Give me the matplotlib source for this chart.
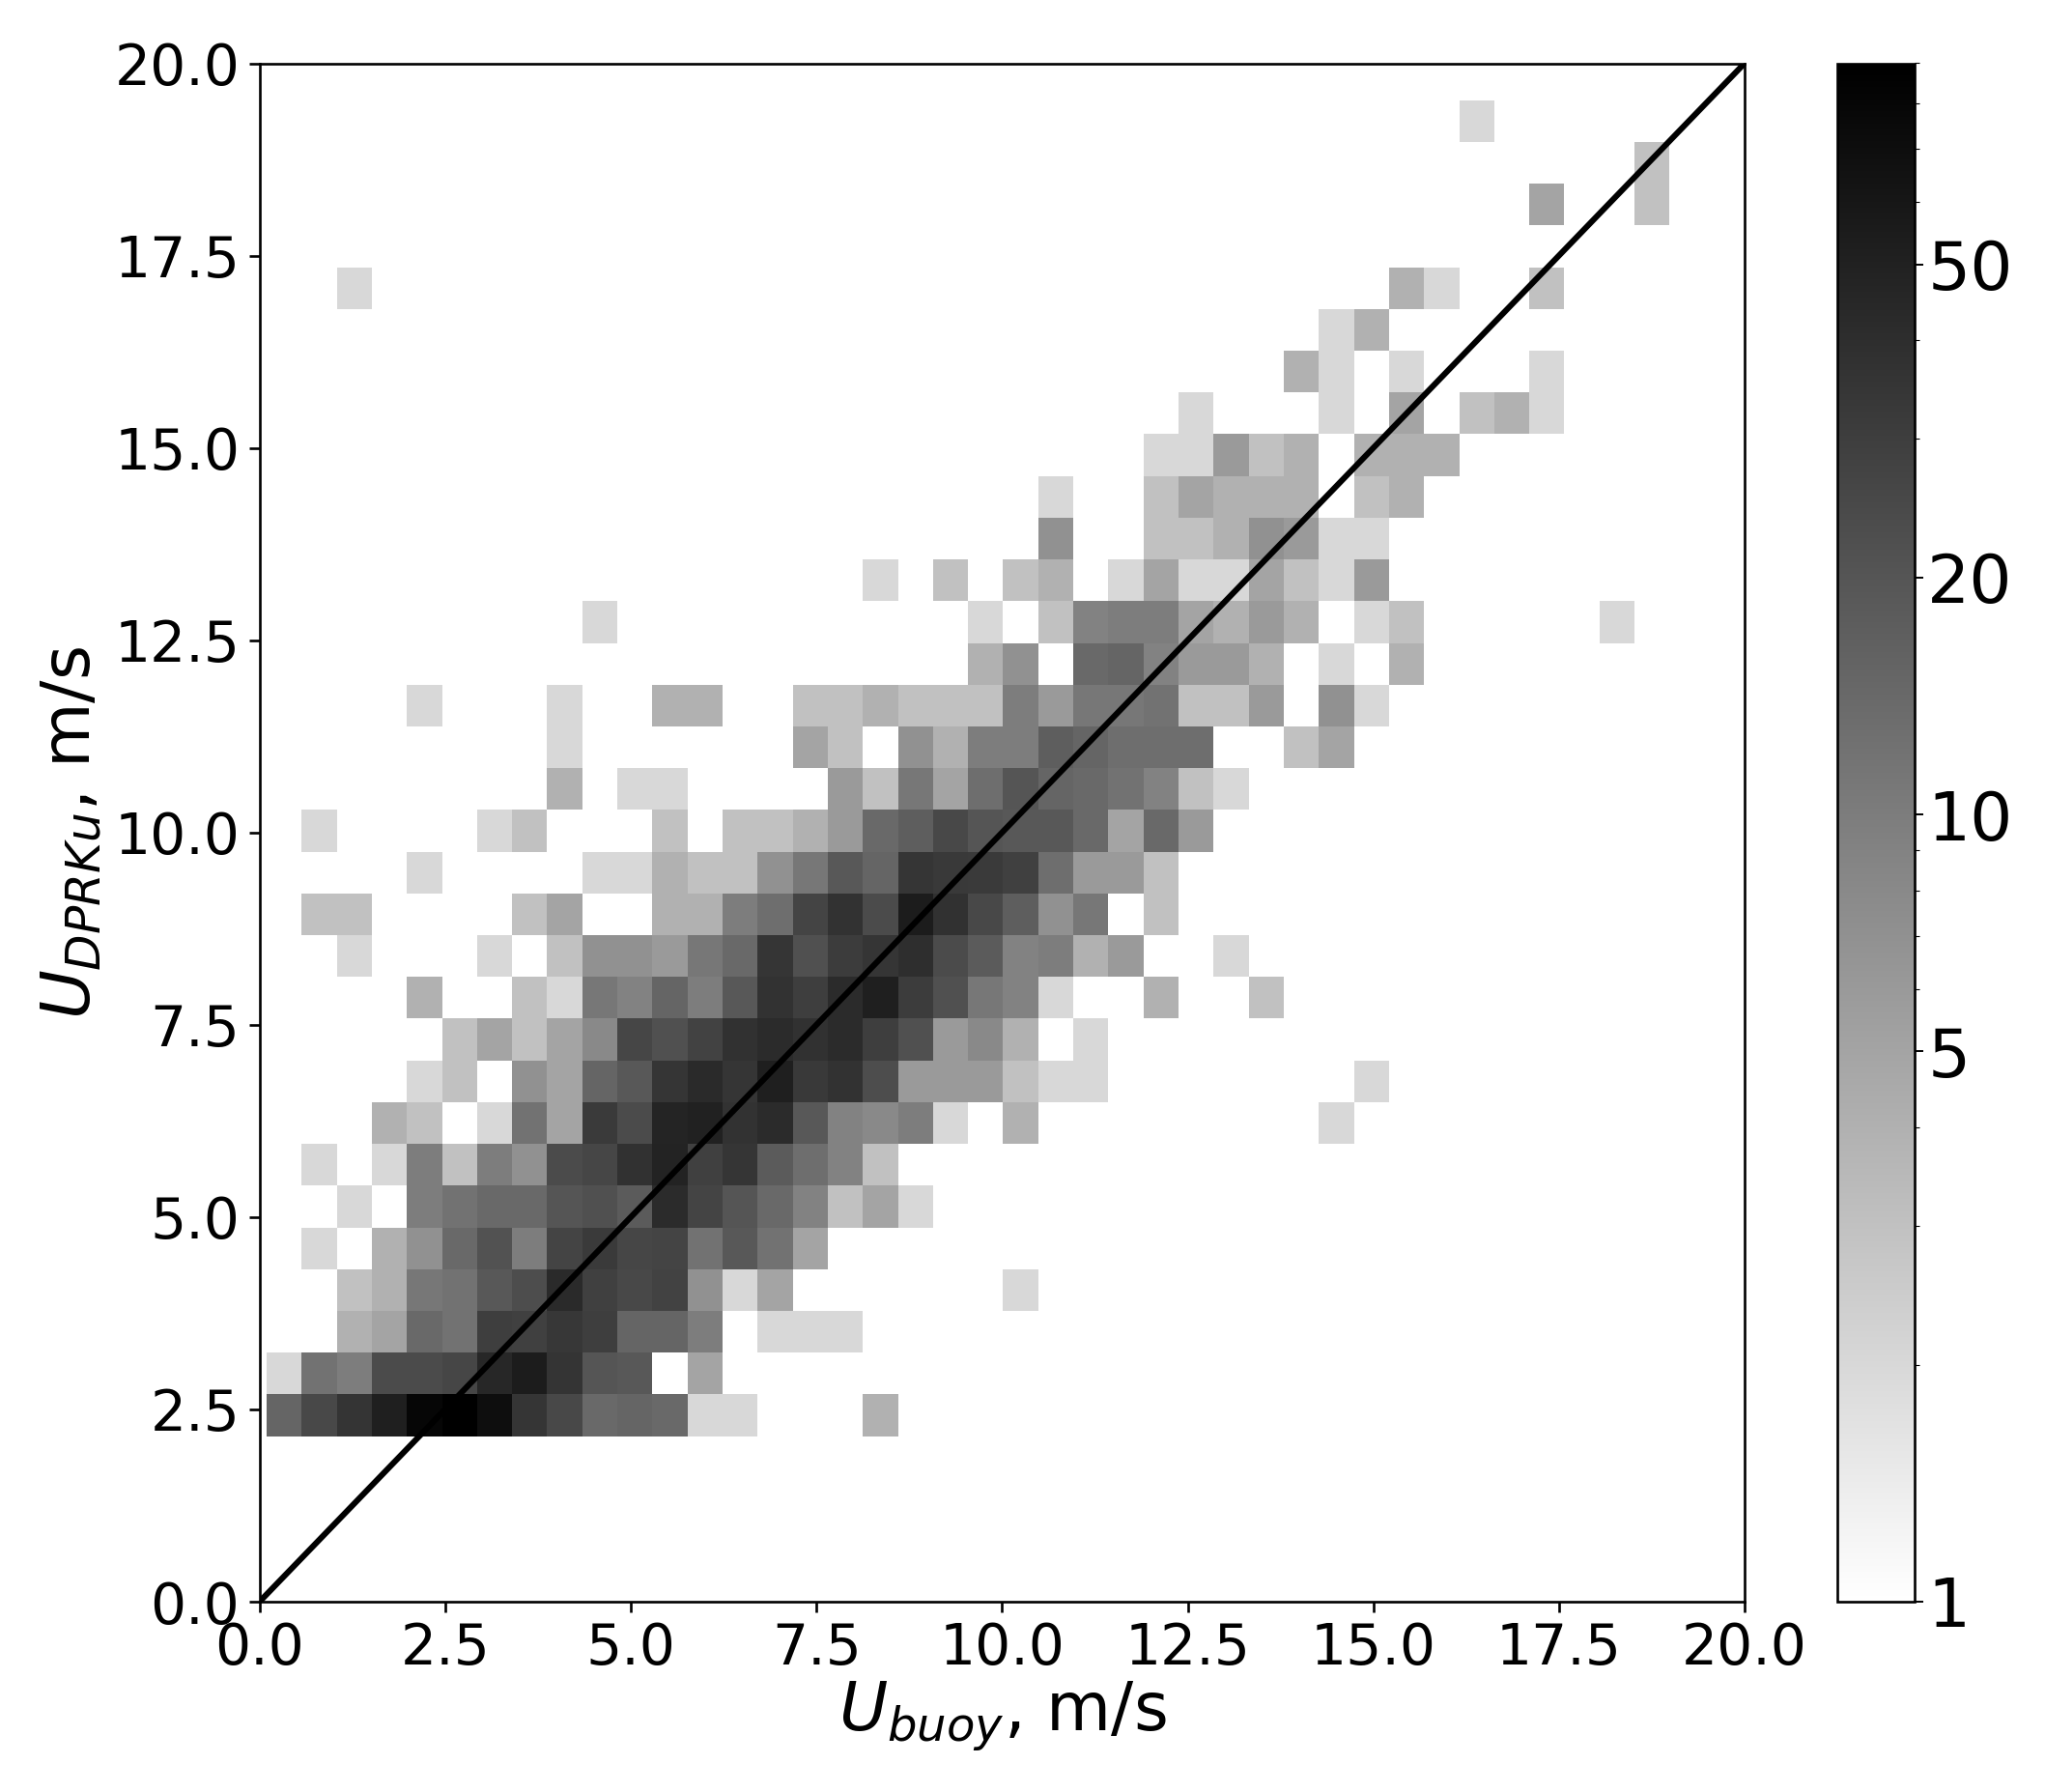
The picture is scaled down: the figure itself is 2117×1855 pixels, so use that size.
import numpy as np
import matplotlib
matplotlib.use('Agg')
import matplotlib.pyplot as plt
from matplotlib.colors import LogNorm

# counts per bin, row00 is the lowest row
row00 = [15, 25, 36, 52, 80, 90, 70, 35, 25, 14, 15, 14, 2, 2, 0, 0, 0, 4]
row01 = [2, 12, 10, 24, 24, 26, 45, 55, 36, 20, 19, 1, 5]
row02 = [0, 0, 4, 5, 14, 12, 30, 29, 34, 30, 15, 15, 10, 1, 2, 2, 2]
row03 = [0, 0, 3, 4, 11, 12, 19, 23, 43, 29, 25, 28, 7, 2, 5] + [0]*6 + [2]
row04 = [0, 2, 1, 4, 7, 14, 21, 10, 27, 32, 26, 27, 12, 19, 12, 5]
row05 = [0, 0, 2, 1, 10, 12, 14, 14, 20, 22, 18, 42, 27, 20, 14, 9, 3, 5, 2]
row06 = [0, 2, 1, 2, 10, 3, 10, 7, 24, 26, 38, 48, 29, 35, 18, 13, 9, 3, 1]
row07 = [0, 0, 0, 4, 3, 1, 2, 12, 5, 32, 24, 47, 50, 37, 42, 19, 9, 8, 10, 2, 1, 4] + [0]*8 + [2]
row08 = [0, 0, 0, 0, 2, 3, 1, 7, 5, 15, 19, 35, 43, 35, 52, 33, 37, 23, 6, 6, 6, 3, 2, 2] + [0]*7 + [2]
row09 = [0]*5 + [3, 5, 3, 5, 8, 26, 22, 28, 38, 42, 38, 42, 30, 22, 6, 8, 4, 1, 2]
row10 = [0]*4 + [4, 1, 1, 3, 2, 11, 9, 15, 10, 19, 37, 30, 42, 52, 31, 22, 11, 9, 2, 0, 0, 4, 0, 0, 3]
row11 = [0, 0, 2, 0, 0, 0, 2, 1, 3, 7, 7, 6, 11, 14, 35, 22, 31, 35, 40, 24, 18, 9, 10, 4, 6, 0, 0, 2]
row12 = [0, 3, 3, 0, 0, 0, 0, 3, 5, 1, 1, 4, 4, 10, 13, 27, 37, 24, 55, 38, 25, 17, 7, 11, 1, 3]
row13 = [0]*4 + [2, 0, 0, 0, 0, 2, 2, 4, 3, 3, 7, 11, 19, 15, 35, 33, 32, 29, 13, 6, 6, 3]
row14 = [0, 2, 0, 0, 0, 0, 2, 3, 0, 0, 0, 3, 1, 3, 3, 4, 6, 14, 17, 25, 20, 19, 19, 14, 5, 14, 6]
row15 = [0]*8 + [4, 0, 2, 2, 0, 0, 0, 0, 6, 3, 11, 5, 13, 20, 15, 14, 12, 9, 3, 2]
row16 = [0]*8 + [2] + [0]*6 + [5, 3, 1, 7, 4, 10, 10, 17, 15, 13, 13, 13, 0, 0, 3, 5]
row17 = [0]*4 + [2, 0, 0, 0, 2, 0, 0, 4, 4, 0, 0, 3, 3, 4, 3, 3, 3, 10, 6, 11, 11, 12, 3, 3, 6, 1, 7, 2]
row18 = [0]*20 + [4, 7, 1, 14, 15, 9, 6, 6, 4, 1, 2, 1, 4]
row19 = [0]*9 + [2] + [0]*10 + [2, 1, 3, 9, 10, 10, 5, 4, 6, 4, 1, 2, 3, 0, 0, 0, 0, 0, 2]
row20 = [0]*17 + [2, 1, 3, 1, 3, 4, 1, 2, 5, 2, 2, 5, 3, 2, 6]
row21 = [0]*22 + [7, 0, 0, 3, 3, 4, 7, 6, 2, 2]
row22 = [0]*22 + [2, 0, 0, 3, 5, 4, 4, 4, 0, 3, 4]
row23 = [0]*25 + [2, 2, 6, 3, 4, 1, 4, 4, 4]
row24 = [0]*26 + [2, 0, 0, 0, 2, 0, 5, 0, 3, 4, 2]
row25 = [0]*29 + [4, 2, 0, 2, 0, 0, 0, 2]
row26 = [0]*30 + [2, 4]
row27 = [0, 0, 2] + [0]*29 + [4, 2, 0, 0, 3]
row28 = []
row29 = [0]*36 + [5, 0, 0, 3]
row30 = [0]*39 + [3]
row31 = [0]*34 + [2]

rows = [row00, row01, row02, row03, row04, row05, row06, row07, row08, row09, row10,
        row11, row12, row13, row14, row15, row16, row17, row18, row19, row20, row21,
        row22, row23, row24, row25, row26, row27, row28, row29, row30, row31]

x_edges = np.linspace(0.095, 18.99, 41)
y_edges = np.linspace(2.152, 19.52, 33)

axis_ticks = [0, 2.5, 5, 7.5, 10, 12.5, 15, 17.5, 20]
cbar_ticks = [1, 5, 10, 20, 50]
cbar_minor = [2, 3, 4, 6, 7, 8, 9, 30, 40, 60, 70, 80, 90]

counts = np.zeros((32, 40))
for j, r in enumerate(rows):
    counts[j, :len(r)] = r
counts = np.ma.masked_equal(counts, 0)

W, H = 2117, 1855
fig = plt.figure(figsize=(W/100, H/100), dpi=100)
ax = fig.add_axes([268.7/W, (H-1658)/H, 1537.3/W, 1592.5/H])
cax = fig.add_axes([1902/W, (H-1658)/H, 80/W, 1592.5/H])

mesh = ax.pcolormesh(x_edges, y_edges, counts, cmap='gray_r', norm=LogNorm(vmin=1, vmax=90))
ax.plot([0, 20], [0, 20], color='k', lw=4.4)
ax.set_xlim(0, 20)
ax.set_ylim(0, 20)
ax.set_xticks(axis_ticks)
ax.set_yticks(axis_ticks)
ax.set_xticklabels(['%.1f' % t for t in axis_ticks])
ax.set_yticklabels(['%.1f' % t for t in axis_ticks])
ax.tick_params(labelsize=42, length=7.7, width=1.9, pad=7)
ax.set_xlabel(r'$U_{buoy}$, m/s', fontsize=49.5, labelpad=2)
ax.set_ylabel(r'$U_{DPRKu}$, m/s', fontsize=50, labelpad=8)
for s in ax.spines.values():
    s.set_linewidth(1.9)

cb = fig.colorbar(mesh, cax=cax)
cb.set_ticks(cbar_ticks)
cb.set_ticklabels([str(t) for t in cbar_ticks])
cb.ax.yaxis.set_ticks(cbar_minor, minor=True)
cb.ax.yaxis.set_ticklabels([], minor=True)
cb.ax.tick_params(which='major', labelsize=50, length=6.5, width=1.4, pad=3)
cb.ax.tick_params(which='minor', length=3.7, width=0.8)
cb.outline.set_linewidth(1.9)

fig.savefig('out.png', dpi=100)
